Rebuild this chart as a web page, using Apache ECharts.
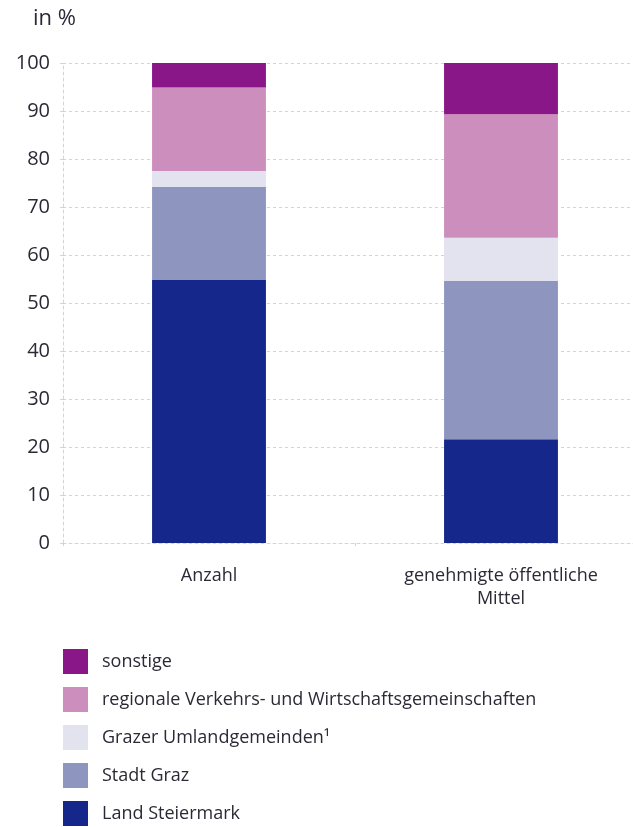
<!DOCTYPE html>
<html>
<head>
<meta charset="utf-8">
<script src="https://cdn.jsdelivr.net/npm/echarts@6/dist/echarts.min.js"></script>
<style>
  html, body { margin: 0; padding: 0; background: #fff; overflow: hidden; }
  /* the plot area runs past the right edge of the window, so the canvas is wider */
  #chart { width: 660px; height: 827px; }
</style>
</head>
<body>
<div id="chart"></div>
<script>
// Categories on the x axis
const categories = ['Anzahl', 'genehmigte öffentliche\nMittel'];

// Shares in percent, stacked from bottom to top
const landSteiermark = [54.8, 21.6];
const stadtGraz = [19.4, 33.0];
const grazerUmland = [3.3, 9.0];
const regionaleGemeinschaften = [17.4, 25.7];
const sonstige = [5.1, 10.7];

const seriesNames = [
  'Land Steiermark',
  'Stadt Graz',
  'Grazer Umlandgemeinden¹',
  'regionale Verkehrs- und Wirtschaftsgemeinschaften',
  'sonstige'
];
const seriesValues = [landSteiermark, stadtGraz, grazerUmland, regionaleGemeinschaften, sonstige];
const seriesColors = ['#15278a', '#8e96c0', '#e2e3ee', '#cc8fbd', '#8a1787'];

// Y axis scale
const yMin = 0, yMax = 100, yStep = 10;

const FONT = '"Open Sans", "DejaVu Sans", sans-serif';
const TEXT = '#2a2a36';
const GRID_LINE = { color: '#e3cbdc', width: 1, type: [3, 3] };

const chart = echarts.init(document.getElementById('chart'), null, { renderer: 'canvas' });

chart.setOption({
  animation: false,
  backgroundColor: '#ffffff',
  textStyle: { fontFamily: FONT },
  title: {
    text: 'in %',
    left: 33,
    top: 8,
    padding: 0,
    textStyle: { fontFamily: FONT, fontSize: 22, fontWeight: 'normal', color: TEXT }
  },
  grid: { left: 63, top: 63, width: 584, height: 480 },
  legend: {
    orient: 'vertical',
    left: 63,
    top: 649,
    padding: 0,
    itemWidth: 25,
    itemHeight: 25,
    itemGap: 13,
    icon: 'rect',
    data: seriesNames.slice().reverse(),
    textStyle: { fontFamily: FONT, fontSize: 18, color: TEXT, padding: [0, 0, 0, 9] }
  },
  xAxis: {
    type: 'category',
    data: categories,
    axisLine: { show: true, lineStyle: GRID_LINE },
    axisTick: { show: true, length: 5, lineStyle: GRID_LINE },
    axisLabel: {
      margin: 21,
      fontFamily: FONT,
      fontSize: 18,
      color: TEXT,
      lineHeight: 23
    },
    splitLine: { show: false }
  },
  yAxis: {
    type: 'value',
    min: yMin,
    max: yMax,
    interval: yStep,
    axisLine: { show: true, lineStyle: GRID_LINE },
    axisTick: { show: true, length: 6, lineStyle: GRID_LINE },
    axisLabel: { margin: 13, fontFamily: FONT, fontSize: 20, color: TEXT },
    splitLine: { show: true, lineStyle: GRID_LINE }
  },
  series: seriesNames.map((name, i) => ({
    name: name,
    type: 'bar',
    stack: 'total',
    barWidth: '39%',
    data: seriesValues[i],
    itemStyle: { color: seriesColors[i] }
  }))
});
</script>
</body>
</html>
